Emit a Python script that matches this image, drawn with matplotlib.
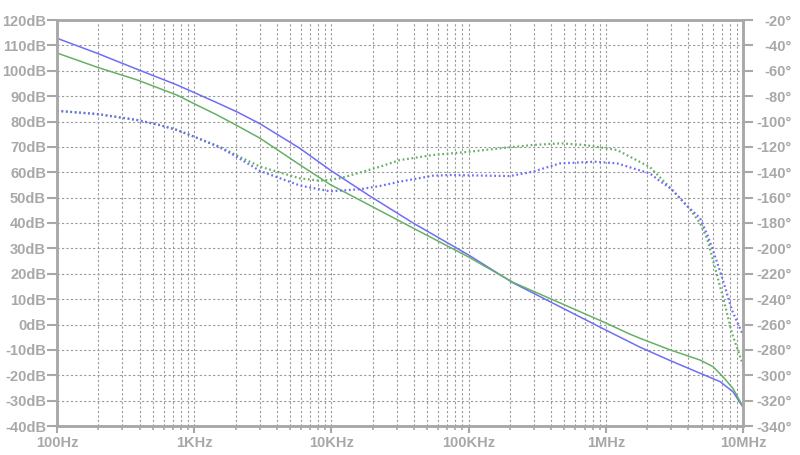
import numpy as np
import matplotlib
matplotlib.use("Agg")
import matplotlib.pyplot as plt
import matplotlib.ticker as mtick

# frequencies (Hz) and readings
freq_mag_blue = [100, 196, 383, 750, 1000, 1466, 2050, 3020, 5900, 9770, 19100,
                 39400, 100000, 211000, 1e6, 1.77e6, 2.94e6, 4.86e6, 6.8e6, 8.45e6, 1e7]
mag_blue = [112.8, 106.9, 100.6, 94.4, 91.4, 87.4, 83.8, 79.1, 69.4, 60.9, 50.6,
            40.0, 27.4, 16.4, -2.2, -8.9, -14.2, -19.2, -22.5, -26.5, -32.6]

freq_mag_green = [100, 196, 383, 750, 1000, 1466, 2050, 3020, 5900, 9770, 39400,
                  100000, 211000, 1e6, 1.5e6, 1.77e6, 2.94e6, 4.86e6, 6.04e6, 7.15e6,
                  8.45e6, 1e7]
mag_green = [107.0, 101.4, 96.4, 90.4, 87.0, 82.6, 78.4, 73.4, 62.9, 55.2, 38.0,
             26.6, 16.6, 0.6, -3.8, -5.4, -10.0, -14.0, -16.6, -20.6,
             -25.2, -32.4]

freq_ph_blue = [100, 196, 383, 560, 750, 1000, 1540, 2020, 3020, 5900, 9770, 16150,
                22600, 31600, 55100, 73200, 200000, 295000, 464000, 834000, 1.21e6,
                2.1e6, 2.48e6, 2.99e6, 3.97e6, 4.86e6, 5.5e6, 6.04e6, 7.14e6, 8.3e6, 1e7]
ph_blue = [-91.6, -94.1, -98.8, -102.8, -106.7, -112.0, -120.5, -127.5, -139.0,
           -150.5, -155.0, -153.4, -150.8, -147.4, -142.7, -142.2, -143.0, -139.5,
           -133.0, -131.7, -133.0, -141.0, -147.0, -153.0, -167.2, -176.1, -189.5,
           -201.3, -225.0, -248.6, -268.3]

freq_ph_green = [100, 196, 383, 560, 750, 1000, 1540, 2020, 3020, 5900, 8260, 11560,
                 22600, 31600, 55100, 97300, 200000, 295000, 464000, 700000, 908000,
                 1.21e6, 2.1e6, 2.48e6, 2.99e6, 3.97e6, 4.86e6, 5.5e6, 6.04e6, 7.14e6,
                 8.3e6, 1e7]
ph_green = [-91.6, -94.1, -98.8, -102.8, -106.7, -112.0, -120.0, -126.5, -135.6,
            -144.8, -146.7, -144.8, -135.6, -130.4, -126.4, -124.0, -120.3, -118.5,
            -117.2, -118.5, -120.3, -122.5, -136.0, -144.0, -153.0, -167.2, -180.0,
            -193.0, -209.2, -238.3, -266.7, -292.0]

db_ticks = list(range(-40, 121, 10))
deg_ticks = list(range(-340, -19, 20))
freq_ticks = [1e2, 1e3, 1e4, 1e5, 1e6, 1e7]
freq_labels = ["100Hz", "1KHz", "10KHz", "100KHz", "1MHz", "10MHz"]

BLUE = "#6e6ef5"
GREEN = "#66b066"
GRAY = "#a8a8a8"
GRID = "#999999"

plt.rcParams["font.family"] = ["Liberation Sans", "DejaVu Sans"]

fig = plt.figure(figsize=(8, 4.55), dpi=100)
ax = fig.add_axes([57 / 800, 1 - 426 / 455, 686 / 800, 406 / 455])
ax2 = ax.twinx()

ax.semilogx(freq_mag_blue, mag_blue, color=BLUE, lw=1.1)
ax.semilogx(freq_mag_green, mag_green, color=GREEN, lw=1.1)
ax2.semilogx(freq_ph_green, ph_green, color=GREEN, lw=1.6, ls=(0, (0.8, 1.2)))
ax2.semilogx(freq_ph_blue, ph_blue, color=BLUE, lw=1.6, ls=(0, (0.8, 1.2)))

ax.set_xlim(1e2, 1e7)
ax.set_ylim(-40, 120)
ax2.set_ylim(-340, -20)

ax.set_yticks(db_ticks)
ax.set_yticklabels([f"{v}dB" for v in db_ticks])
ax2.set_yticks(deg_ticks)
ax2.set_yticklabels([f"{v}°" for v in deg_ticks], ha="right")
ax.set_xticks(freq_ticks)
ax.set_xticklabels(freq_labels)
ax.xaxis.set_minor_locator(mtick.LogLocator(base=10, subs=np.arange(2, 10), numticks=20))
ax.xaxis.set_minor_formatter(mtick.NullFormatter())

ax.grid(True, which="both", axis="x", color=GRID, ls=(0, (2, 2)), lw=0.8)
ax.grid(True, which="major", axis="y", color=GRID, ls=(0, (2, 2)), lw=0.8)

lab = dict(colors=GRAY, labelcolor=GRAY, labelsize=10.5, width=1.5)
ax.tick_params(axis="y", which="major", length=7, pad=1, **lab)
ax2.tick_params(axis="y", which="major", length=7, pad=28, **lab)
ax.tick_params(axis="x", which="major", length=5, pad=2, **lab)
ax.tick_params(axis="x", which="minor", length=3, colors=GRAY, width=1.2)
for a in (ax, ax2):
    for t in a.get_xticklabels() + a.get_yticklabels():
        t.set_fontweight("bold")
    for s in a.spines.values():
        s.set_color(GRAY)
        s.set_linewidth(1.8)

fig.savefig("out.png", dpi=100, facecolor="white")
